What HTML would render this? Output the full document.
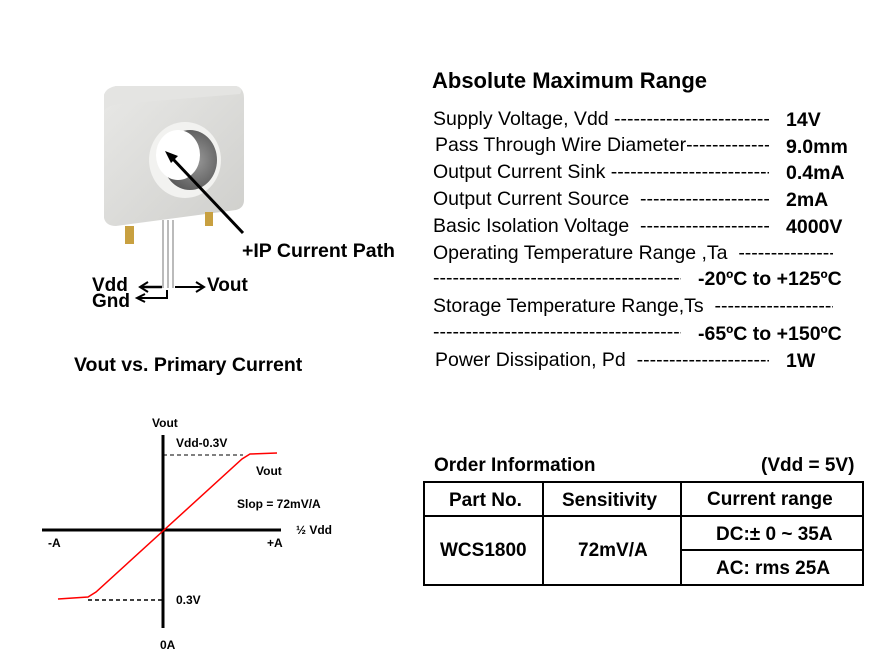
<!DOCTYPE html>
<html><head><style>
body{margin:0;width:896px;height:663px;background:#fff;position:relative;overflow:hidden;font-family:"Liberation Sans",Arial,sans-serif;color:#000}
.t{position:absolute;white-space:nowrap}
.s{font-size:19.5px}
.b{font-weight:bold}
.l{position:absolute;white-space:nowrap;overflow:hidden;font-size:19.5px;right:127px}
</style></head><body>
<svg width="896" height="663" style="position:absolute;left:0;top:0">
 <defs>
  <linearGradient id="g1" x1="0" y1="0" x2="1" y2="1"><stop offset="0" stop-color="#e8e8e6"/><stop offset="1" stop-color="#cfcfcc"/></linearGradient>
  <radialGradient id="g2" cx="0.6" cy="0.5" r="0.6"><stop offset="0" stop-color="#999"/><stop offset="1" stop-color="#555"/></radialGradient>
 </defs>
 <path d="M104 95 Q106 88 116 86 L236 86 Q244 88 244 98 L244 200 Q244 208 236 210 L116 226 Q106 226 104 218 Z" fill="url(#g1)"/>
 <path d="M104 95 Q106 88 116 86 L236 86 Q244 88 240 94 L118 104 Q108 106 104 110Z" fill="#e4e4e2"/>
 <rect x="125" y="226" width="9" height="18" fill="#c8a040"/>
 <rect x="205" y="212" width="8" height="14" fill="#c8a040"/>
 <line x1="163" y1="220" x2="163" y2="288" stroke="#bbb" stroke-width="2"/>
 <line x1="168" y1="220" x2="168" y2="288" stroke="#bbb" stroke-width="2"/>
 <line x1="173" y1="220" x2="173" y2="288" stroke="#bbb" stroke-width="2"/>
 <ellipse cx="185" cy="160" rx="36" ry="38" fill="#f2f2f0"/>
 <ellipse cx="190" cy="160" rx="27" ry="30" fill="url(#g2)"/>
 <ellipse cx="178" cy="155" rx="22" ry="25" fill="#fff"/>
 <line x1="243" y1="233" x2="172" y2="158" stroke="#000" stroke-width="3"/>
 <polygon points="165,151 178,156 171,163" fill="#000"/>
 <path d="M162 287 H142" stroke="#000" stroke-width="2.5" fill="none"/><path d="M148 282 L140 287 L148 292" stroke="#000" stroke-width="2" fill="none"/>
 <path d="M167 290 V298 H138" stroke="#000" stroke-width="2" fill="none"/><path d="M145 294 L137 298 L145 302" stroke="#000" stroke-width="2" fill="none"/>
 <path d="M175 287 H202" stroke="#000" stroke-width="2" fill="none"/><path d="M196 282 L204 287 L196 292" stroke="#000" stroke-width="2" fill="none"/>
 <line x1="163" y1="435" x2="163" y2="628" stroke="#000" stroke-width="3"/>
 <line x1="42" y1="530" x2="281" y2="530" stroke="#000" stroke-width="3"/>
 <line x1="163" y1="455" x2="243" y2="455" stroke="#000" stroke-width="1" stroke-dasharray="4,3"/>
 <line x1="88" y1="600" x2="163" y2="600" stroke="#000" stroke-width="1.5" stroke-dasharray="4,3"/>
 <polyline points="58,599 88,597 96,592 242,459 250,454 277,453" stroke="#f00" stroke-width="1.5" fill="none"/>
 <g stroke="#000" stroke-width="2" fill="none">
  <rect x="424" y="482" width="439" height="103"/>
  <line x1="424" y1="516" x2="863" y2="516"/>
  <line x1="543" y1="482" x2="543" y2="585"/>
  <line x1="681" y1="482" x2="681" y2="585"/>
  <line x1="681" y1="550" x2="863" y2="550"/>
 </g>
</svg>
<div class="t b" style="left:242px;top:240px;font-size:19.5px">+IP Current Path</div>
<div class="t b" style="left:92px;top:275px;font-size:19px">Vdd</div>
<div class="t b" style="left:92px;top:291px;font-size:19px">Gnd</div>
<div class="t b" style="left:207px;top:275px;font-size:19px">Vout</div>
<div class="t b" style="left:74px;top:354px;font-size:19.5px">Vout vs. Primary Current</div>

<div class="t b" style="left:152px;top:416px;font-size:12px">Vout</div>
<div class="t b" style="left:176px;top:436px;font-size:12px">Vdd-0.3V</div>
<div class="t b" style="left:256px;top:464px;font-size:12px">Vout</div>
<div class="t b" style="left:237px;top:497px;font-size:12px">Slop = 72mV/A</div>
<div class="t b" style="left:296px;top:523px;font-size:12px">½ Vdd</div>
<div class="t b" style="left:48px;top:536px;font-size:12px">-A</div>
<div class="t b" style="left:267px;top:536px;font-size:12px">+A</div>
<div class="t b" style="left:176px;top:593px;font-size:12px">0.3V</div>
<div class="t b" style="left:160px;top:638px;font-size:12px">0A</div>

<div class="t b" style="left:432px;top:68px;font-size:22px">Absolute Maximum Range</div>
<div class="l" style="left:433px;top:108px">Supply Voltage, Vdd ----------------------------------------</div>
<div class="t s b" style="left:786px;top:109px">14V</div>
<div class="l" style="left:435px;top:134px">Pass Through Wire Diameter----------------------------------</div>
<div class="t s b" style="left:786px;top:136px">9.0mm</div>
<div class="l" style="left:433px;top:161px">Output Current Sink ----------------------------------------</div>
<div class="t s b" style="left:786px;top:162px">0.4mA</div>
<div class="l" style="left:433px;top:188px">Output Current Source &nbsp;----------------------------------</div>
<div class="t s b" style="left:786px;top:189px">2mA</div>
<div class="l" style="left:433px;top:215px">Basic Isolation Voltage &nbsp;-----------------------------------</div>
<div class="t s b" style="left:786px;top:216px">4000V</div>
<div class="l" style="left:433px;top:242px;right:63px">Operating Temperature Range ,Ta &nbsp;--------------------------</div>
<div class="l" style="left:433px;top:267px;right:215px">----------------------------------------------------------</div>
<div class="t s b" style="left:698px;top:268px">-20ºC to +125ºC</div>
<div class="l" style="left:433px;top:295px;right:63px">Storage Temperature Range,Ts &nbsp;-----------------------------</div>
<div class="l" style="left:433px;top:321px;right:215px">----------------------------------------------------------</div>
<div class="t s b" style="left:698px;top:323px">-65ºC to +150ºC</div>
<div class="l" style="left:435px;top:349px">Power Dissipation, Pd &nbsp;------------------------------------</div>
<div class="t s b" style="left:786px;top:350px">1W</div>

<div class="t b" style="left:434px;top:455px;font-size:19px">Order Information</div>
<div class="t b" style="left:761px;top:455px;font-size:19px">(Vdd = 5V)</div>
<div class="t b" style="left:449px;top:490px;font-size:19px">Part No.</div>
<div class="t b" style="left:562px;top:490px;font-size:19px">Sensitivity</div>
<div class="t b" style="left:707px;top:489px;font-size:19px">Current range</div>
<div class="t b" style="left:440px;top:540px;font-size:19px">WCS1800</div>
<div class="t b" style="left:578px;top:540px;font-size:19px">72mV/A</div>
<div class="t b" style="left:716px;top:524px;font-size:19px">DC:± 0 ~ 35A</div>
<div class="t b" style="left:716px;top:558px;font-size:19px">AC: rms 25A</div>
</body></html>
